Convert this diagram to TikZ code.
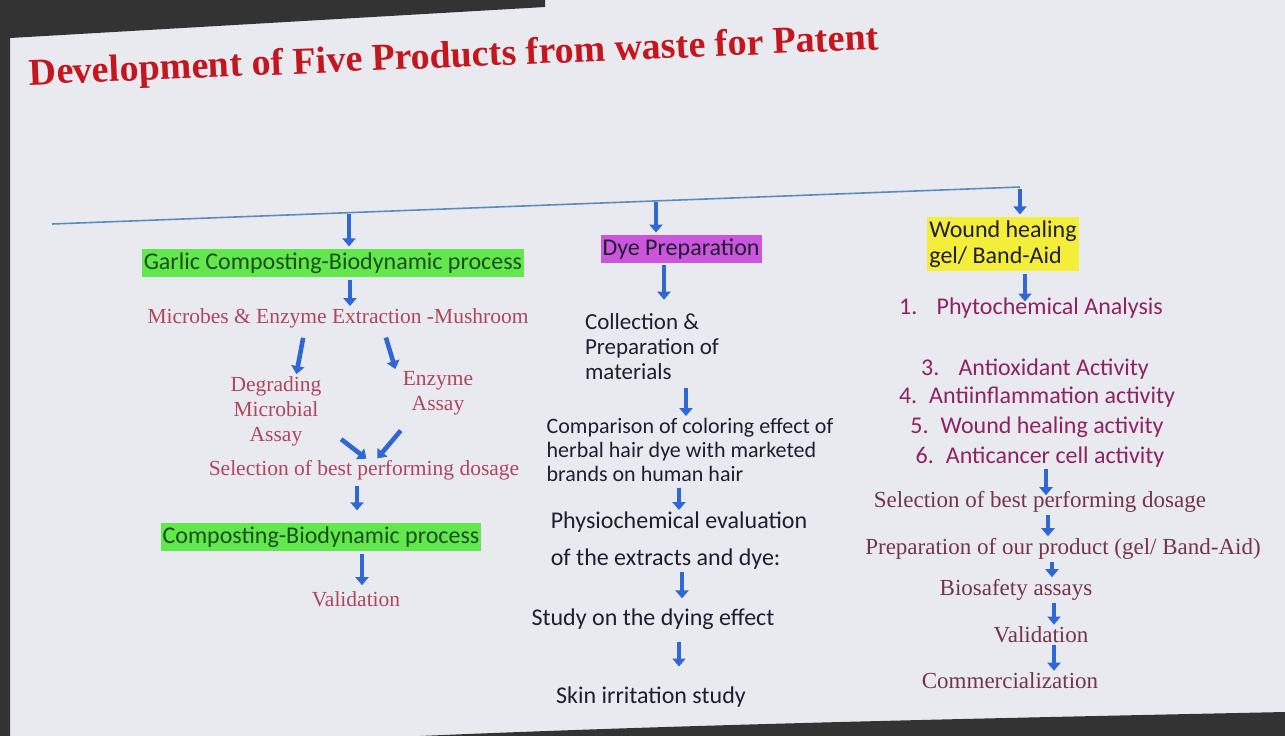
\documentclass[tikz,border=0pt]{standalone}
\usepackage{fontspec}
\setmainfont{Liberation Serif}
\newfontfamily\calib{Carlito}
\usetikzlibrary{arrows.meta, positioning}
\definecolor{slide}{HTML}{E9EAEF}
\definecolor{titlered}{HTML}{C3161E}
\definecolor{rosetxt}{HTML}{B0455E}
\definecolor{maroontxt}{HTML}{73344C}
\definecolor{listtxt}{HTML}{8E2262}
\definecolor{navytxt}{HTML}{1E1E2E}
\definecolor{greentxt}{HTML}{1A4F1A}
\definecolor{boxgreen}{HTML}{62E84C}
\definecolor{boxmag}{HTML}{CC55DD}
\definecolor{boxyel}{HTML}{F4EE3A}
\definecolor{arrblue}{HTML}{2F68D4}
\definecolor{lineblue}{HTML}{5B8CC0}

\begin{document}
\begin{tikzpicture}[x=1pt, y=-1pt,
  every node/.style={inner sep=0pt, align=center},
  roman/.style={font=\fontsize{21.5}{25}\selectfont, text=rosetxt},
  romanr/.style={font=\fontsize{23}{27}\selectfont, text=maroontxt},
  sans/.style={font=\calib\fontsize{24}{25}\selectfont, text=navytxt, align=left},
  item/.style={font=\calib\fontsize{24}{28}\selectfont, text=listtxt},
  hbox/.style={font=\calib\fontsize{24}{26}\selectfont, inner xsep=2pt, inner ysep=4pt},
  arr/.style={draw=arrblue, line width=4.6pt, -{Triangle[width=13pt,length=8pt]}, shorten <=2pt, shorten >=2pt}]
\useasboundingbox (0,0) rectangle (1285,736);
\fill[slide] (0,0) rectangle (1285,736);
% dark edges of the photo
\fill[black!80] (0,0) -- (545,0) -- (545,7) -- (10,38) -- (10,736) -- (0,736) -- cycle;
\fill[black!80] (420,736) .. controls (700,724) and (1000,718) .. (1285,712) -- (1285,736) -- cycle;

\node[rotate=2.4, font=\bfseries\fontsize{38}{40}\selectfont, text=titlered] (title) at (454,58) {Development of Five Products from waste for Patent};

% top line and branches
\coordinate (l0) at (52,224);
\coordinate (l1) at (349,212);
\coordinate (l2) at (656,200);
\coordinate (l3) at (1020,187);
\draw[lineblue, line width=1.6pt] (l0) -- (l3);

% garlic composting
\node[hbox, fill=boxgreen, text=greentxt] (garlic) at (333,263) {Garlic Composting-Biodynamic process};
\node[roman] (microbes) at (338,318) {Microbes \& Enzyme Extraction -Mushroom};
\node[roman] (degrade) at (276,411) {Degrading\\Microbial\\Assay};
\node[roman] (enzyme) at (438,393) {Enzyme\\Assay};
\node[roman] (select) at (364,470) {Selection of best performing dosage};
\node[hbox, fill=boxgreen, text=greentxt] (compost) at (321,537) {Composting-Biodynamic process};
\node[roman] (valid) at (356,599) {Validation};

\draw[arr] (l1) -- (l1 |- garlic.north);
\draw[arr] ([xshift=17pt]garlic.south) -- ([xshift=17pt]garlic.south |- microbes.north);
\draw[arr, shorten <=10pt] ([xshift=-33pt]microbes.south) -- ([xshift=20pt]degrade.north);
\draw[arr, shorten <=10pt] ([xshift=45pt]microbes.south) -- ([xshift=-42pt]enzyme.north);
\draw[arr] ([xshift=18pt,yshift=8pt]degrade.south east) -- ([xshift=4pt]select.north);
\draw[arr] ([xshift=-36pt,yshift=-14pt]enzyme.south) -- ([xshift=12pt]select.north);
\draw[arr, shorten <=6pt, shorten >=12pt] ([xshift=-7pt]select.south) -- ([xshift=-7pt]select.south |- compost.north);
\draw[arr, shorten >=6pt] ([xshift=41pt]compost.south) -- ([xshift=41pt]compost.south |- valid.north);

% dye preparation
\node[hbox, fill=boxmag, text=navytxt] (dye) at (681,249) {Dye Preparation};
\node[sans, font=\calib\fontsize{23}{25}\selectfont] (collect) at (652,347) {Collection \&\\Preparation of\\materials};
\node[sans, font=\calib\fontsize{22}{24}\selectfont] (compare) at (690,450) {Comparison of coloring effect of\\herbal hair dye with marketed\\brands on human hair};
\node[sans, font=\calib\fontsize{24}{37}\selectfont] (physio) at (679,541) {Physiochemical evaluation\\of the extracts and dye:};
\node[sans] (study) at (653,619) {Study on the dying effect};
\node[sans] (skin) at (651,697) {Skin irritation study};

\draw[arr] (l2) -- (l2 |- dye.north);
\draw[arr, shorten >=14pt] ([xshift=-17pt]dye.south) -- ([xshift=-17pt]dye.south |- collect.north);
\draw[arr, shorten <=8pt] ([xshift=34pt]collect.south) -- ([xshift=34pt]collect.south |- compare.north);
\draw[arr, shorten <=6pt] ([xshift=-11pt]compare.south) -- ([xshift=-11pt]compare.south |- physio.north);
\draw[arr, shorten >=10pt] ([xshift=3pt]physio.south) -- ([xshift=3pt]physio.south |- study.north);
\draw[arr, shorten <=12pt, shorten >=20pt] ([xshift=26pt]study.south) -- ([xshift=26pt]study.south |- skin.north);

% wound healing gel
\node[hbox, fill=boxyel, text=navytxt, align=left] (wound) at (1003,244) {Wound healing\\gel/ Band-Aid};
\node[item] (phyto) at (1031,308) {1.\hspace{0.8em}Phytochemical Analysis};
\node[item] (antiox) at (1035,369) {3.\hspace{0.8em}Antioxidant Activity};
\node[item] (inflam) at (1037,397) {4.\hspace{0.5em}Antiinflammation activity};
\node[item] (heal) at (1037,427) {5.\hspace{0.5em}Wound healing activity};
\node[item] (cancer) at (1040,457) {6.\hspace{0.5em}Anticancer cell activity};
\node[romanr] (best) at (1040,502) {Selection of best performing dosage};
\node[romanr] (prep) at (1063,549) {Preparation of our product (gel/ Band-Aid)};
\node[romanr] (biosafe) at (1016,590) {Biosafety assays};
\node[romanr] (valid2) at (1041,635) {Validation};
\node[romanr] (commerce) at (1010,681) {Commercialization};

\draw[arr] (l3) -- (l3 |- wound.north);
\draw[arr, shorten >=-4pt] ([xshift=22pt]wound.south) -- ([xshift=22pt]wound.south |- phyto.north);
\draw[arr, shorten >=-4pt] ([xshift=6pt]cancer.south) -- ([xshift=6pt]cancer.south |- best.north);
\draw[arr] ([xshift=8pt]best.south) -- ([xshift=8pt]best.south |- prep.north);
\draw[arr] ([xshift=36pt]biosafe.north |- prep.south) -- ([xshift=36pt]biosafe.north);
\draw[arr] ([xshift=13pt]valid2.north |- biosafe.south) -- ([xshift=13pt]valid2.north);
\draw[arr] ([xshift=13pt]valid2.south) -- ([xshift=13pt]valid2.south |- commerce.north);
\end{tikzpicture}
\end{document}
